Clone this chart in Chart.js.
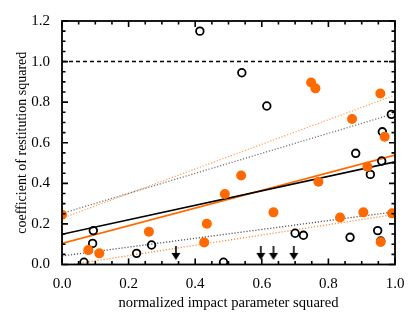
<!DOCTYPE html>
<html>
<head>
<meta charset="utf-8">
<script src="https://cdn.jsdelivr.net/npm/chart.js@4/dist/chart.umd.min.js"></script>
<style>
  html, body { margin: 0; padding: 0; background: #fff; }
  #wrap { width: 415px; height: 321px; }
</style>
</head>
<body>
<div id="wrap"><canvas id="c" width="415" height="321"></canvas></div>
<script>
// --- data ---
const openX = [0.414, 0.540, 0.615, 0.989, 0.962, 0.882, 0.960, 0.926, 0.700, 0.725, 0.865, 0.948, 0.957, 0.094, 0.092, 0.066, 0.224, 0.269, 0.485];
const openY = [1.150, 0.945, 0.781, 0.740, 0.654, 0.548, 0.510, 0.444, 0.154, 0.144, 0.134, 0.167, 0.116, 0.167, 0.104, 0.011, 0.055, 0.096, 0.011];

const fillX = [0.000, 0.079, 0.112, 0.261, 0.489, 0.435, 0.427, 0.635, 0.538, 0.748, 0.761, 0.956, 0.871, 0.969, 0.917, 0.770, 0.835, 0.905, 0.991, 0.957];
const fillY = [0.245, 0.071, 0.055, 0.162, 0.347, 0.201, 0.109, 0.257, 0.439, 0.897, 0.868, 0.843, 0.717, 0.630, 0.482, 0.408, 0.232, 0.257, 0.252, 0.111];

const limitX = [0.342, 0.597, 0.635, 0.696];
const limitY = [0.057, 0.057, 0.057, 0.057];

const fitX = [0, 1];
const blackFit = [0.149, 0.506];
const orangeFit = [0.104, 0.539];
const grayUpper = [0.252, 0.745];
const orangeUpper = [0.228, 0.835];
const grayLower = [0.042, 0.260];
const orangeLower = [-0.007, 0.247];
const unityY = [1.0, 1.0];

const xTicks = [0, 0.2, 0.4, 0.6, 0.8, 1.0];
const yTicks = [0, 0.2, 0.4, 0.6, 0.8, 1.0, 1.2];

const ORANGE = '#ff6a00';
const SERIF = '"Liberation Serif", "DejaVu Serif", serif';

const pts = (xs, ys) => xs.map((x, i) => ({ x: x, y: ys[i] }));

// downward arrow marker (upper limits)
function arrowMarker() {
    const cv = document.createElement('canvas');
    cv.width = 10; cv.height = 14;
    const g = cv.getContext('2d');
    g.strokeStyle = '#000'; g.fillStyle = '#000'; g.lineWidth = 1.6;
    g.beginPath(); g.moveTo(5, 0); g.lineTo(5, 8); g.stroke();
    g.beginPath(); g.moveTo(0.5, 7); g.lineTo(9.5, 7); g.lineTo(5, 14); g.closePath(); g.fill();
    return cv;
}

function fitLine(ys, color, width, dash, order) {
    return {
        type: 'line', data: pts(fitX, ys), borderColor: color, borderWidth: width,
        borderDash: dash, pointRadius: 0, fill: false, clip: 0, order: order, tension: 0
    };
}

// box + inward ticks, IDL style
const frame = {
    id: 'frame',
    afterDatasetsDraw(chart) {
        const { ctx, chartArea: a, scales: { x, y } } = chart;
        ctx.save();
        ctx.strokeStyle = '#000';
        ctx.lineWidth = 1.6;
        ctx.beginPath();
        for (let i = 0; i <= 20; i++) {
            const v = i * 0.05;
            const px = x.getPixelForValue(v);
            const len = (i % 4 === 0) ? 6 : 3.5;
            ctx.moveTo(px, a.bottom); ctx.lineTo(px, a.bottom - len);
            ctx.moveTo(px, a.top); ctx.lineTo(px, a.top + len);
        }
        for (let i = 0; i <= 24; i++) {
            const v = i * 0.05;
            const py = y.getPixelForValue(v);
            const len = (i % 4 === 0) ? 6 : 3.5;
            ctx.moveTo(a.left, py); ctx.lineTo(a.left + len, py);
            ctx.moveTo(a.right, py); ctx.lineTo(a.right - len, py);
        }
        ctx.stroke();
        ctx.lineWidth = 1.8;
        ctx.strokeRect(a.left, a.top, a.right - a.left, a.bottom - a.top);
        ctx.restore();
    }
};

new Chart(document.getElementById('c'), {
    type: 'scatter',
    data: {
        datasets: [
            {
                data: pts(fillX, fillY), backgroundColor: ORANGE, borderColor: ORANGE,
                borderWidth: 0, pointRadius: 5, clip: 0, order: 0
            },
            {
                data: pts(openX, openY), backgroundColor: 'transparent', borderColor: '#000',
                borderWidth: 1.8, pointRadius: 3.8, clip: 0, order: 1
            },
            {
                data: pts(limitX, limitY), pointStyle: arrowMarker(), pointRadius: 7, clip: 0, order: 2
            },
            fitLine(unityY, '#000', 1.5, [4, 3], 3),
            fitLine(blackFit, '#000', 1.6, [], 4),
            fitLine(orangeFit, ORANGE, 1.6, [], 5),
            fitLine(grayUpper, '#777', 1.3, [1.2, 1.8], 6),
            fitLine(orangeUpper, '#ffa060', 1.3, [1.2, 1.8], 7),
            fitLine(grayLower, '#555', 1.3, [1.2, 1.8], 8),
            fitLine(orangeLower, '#ff8a3a', 1.3, [1.2, 1.8], 9)
        ]
    },
    options: {
        responsive: false,
        animation: false,
        events: [],
        layout: { padding: { left: 0, right: 20, top: 21, bottom: 0 } },
        plugins: { legend: { display: false }, tooltip: { enabled: false } },
        scales: {
            x: {
                type: 'linear', min: 0, max: 1,
                grid: { display: false }, border: { display: false },
                afterBuildTicks: s => { s.ticks = xTicks.map(v => ({ value: v })); },
                afterFit: s => { s.height = 56.5; },
                ticks: {
                    color: '#000', padding: 3, maxRotation: 0,
                    font: { family: SERIF, size: 15 },
                    callback: v => Number(v).toFixed(1)
                },
                title: {
                    display: true, text: 'normalized impact parameter squared', color: '#000',
                    font: { family: SERIF, size: 14.6 }, padding: { top: 0, bottom: 9 }
                }
            },
            y: {
                type: 'linear', min: 0, max: 1.2,
                grid: { display: false }, border: { display: false },
                afterBuildTicks: s => { s.ticks = yTicks.map(v => ({ value: v })); },
                afterFit: s => { s.width = 62; },
                ticks: {
                    color: '#000', padding: 4,
                    font: { family: SERIF, size: 15 },
                    callback: v => Number(v).toFixed(1)
                },
                title: {
                    display: true, text: 'coefficient of restitution squared', color: '#000',
                    font: { family: SERIF, size: 14 }, padding: { top: 14, bottom: 0 }
                }
            }
        }
    },
    plugins: [frame]
});
</script>
</body>
</html>
